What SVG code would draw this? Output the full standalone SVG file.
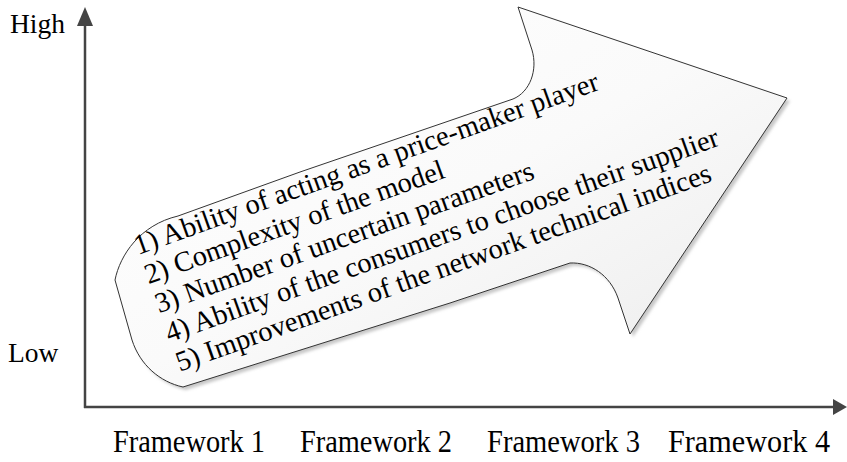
<svg xmlns="http://www.w3.org/2000/svg" width="847" height="462" viewBox="0 0 847 462">
<style>
.axis{stroke:#444;stroke-width:2.5;fill:none}
.ahead{fill:#444;stroke:none}
.lbl{font-family:"Liberation Serif","Times New Roman",serif;fill:#000}
.body{font-family:"Liberation Serif","Times New Roman",serif;font-size:28.5px;fill:#000}
</style>
<defs>
<linearGradient id="grad" x1="0" y1="0" x2="1" y2="1">
<stop offset="0" stop-color="#ffffff"/>
<stop offset="0.5" stop-color="#fafafa"/>
<stop offset="1" stop-color="#ebebeb"/>
</linearGradient>
<filter id="blur" x="-5%" y="-5%" width="110%" height="110%">
<feGaussianBlur stdDeviation="1.5"/>
</filter>
<path id="arrowShape" d="M 518 7 L 787 98 L 630 334 L 618 298 C 610 275 590 262 570 263 L 450 303 L 183 387 C 160 382 140 365 132 340 L 115 280 C 120 255 140 225 178 216 L 300 172 L 513 99 C 530 92 538 70 532 50 Z"/>
</defs>

<g id="connectors">
<line class="axis" x1="85" y1="408" x2="85" y2="24"/>
<polygon class="ahead" points="85,7 77,26 93,26"/>
<line class="axis" x1="84" y1="407" x2="834" y2="407"/>
<polygon class="ahead" points="847,407 833,399 833,415"/>
</g>

<g id="axis-labels">
<text class="lbl" x="10" y="33" font-size="27.5">High</text>
<text class="lbl" x="8" y="362" font-size="27.5">Low</text>
<text class="lbl" x="113" y="452" font-size="31" textLength="152" lengthAdjust="spacingAndGlyphs">Framework 1</text>
<text class="lbl" x="300" y="452" font-size="31" textLength="152" lengthAdjust="spacingAndGlyphs">Framework 2</text>
<text class="lbl" x="487" y="452" font-size="31" textLength="153" lengthAdjust="spacingAndGlyphs">Framework 3</text>
<text class="lbl" x="668" y="452" font-size="31" textLength="162" lengthAdjust="spacingAndGlyphs">Framework 4</text>
</g>

<g id="progress-arrow">
<use href="#arrowShape" transform="translate(3,3)" fill="#c8c8c8" filter="url(#blur)"/>
<use href="#arrowShape" fill="url(#grad)" stroke="#333" stroke-width="1"/>
<g transform="translate(138,255) rotate(-19.7)">
<text class="body" x="0" y="0">1) Ability of acting as a price-maker player</text>
<text class="body" x="0" y="31">2) Complexity of the model</text>
<text class="body" x="0" y="62">3) Number of uncertain parameters</text>
<text class="body" x="0" y="93">4) Ability of the consumers to choose their supplier</text>
<text class="body" x="0" y="124">5) Improvements of the network technical indices</text>
</g>
</g>
</svg>
